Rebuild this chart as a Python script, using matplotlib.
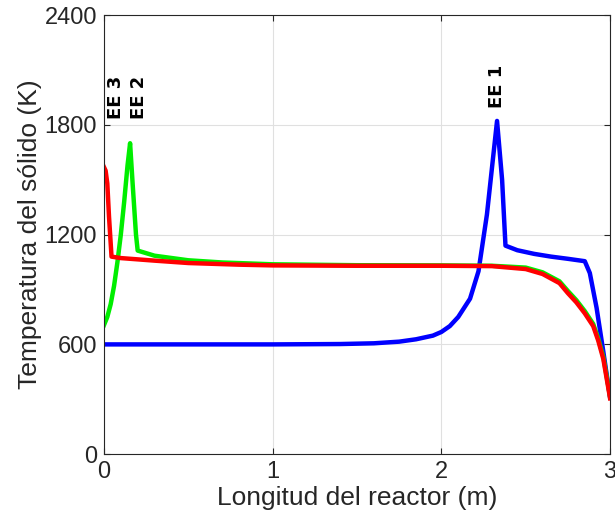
import matplotlib.pyplot as plt

plt.rcParams['font.family'] = ['Liberation Sans', 'DejaVu Sans']

# Perfil EE 1 (azul)
x_ee1 = [0.0, 0.5, 1.0, 1.4, 1.6, 1.75, 1.85, 1.95, 2.0, 2.05, 2.1, 2.17, 2.22, 2.27, 2.33,
         2.36, 2.38, 2.45, 2.55, 2.65, 2.75, 2.85, 2.88, 2.92, 2.96, 3.0]
t_ee1 = [600, 600, 600, 602, 606, 615, 628, 648, 668, 700, 750, 850, 1000, 1310, 1822,
         1500, 1140, 1115, 1095, 1080, 1068, 1055, 990, 800, 560, 310]

# Perfil EE 2 (verde)
x_ee2 = [0.0, 0.02, 0.04, 0.06, 0.08, 0.1, 0.12, 0.14, 0.155, 0.17, 0.19, 0.2, 0.3, 0.5,
         0.7, 1.0, 1.5, 2.0, 2.3, 2.5, 2.6, 2.7, 2.75, 2.8, 2.85, 2.9, 2.93, 2.96, 3.0]
t_ee2 = [705, 750, 820, 920, 1050, 1200, 1380, 1580, 1700, 1480, 1200, 1113, 1085, 1060,
         1048, 1038, 1033, 1032, 1030, 1020, 994, 945, 892, 842, 782, 712, 632, 532, 315]

# Perfil EE 3 (rojo)
x_ee3 = [0.0, 0.01, 0.02, 0.03, 0.045, 0.1, 0.3, 0.5, 0.8, 1.0, 1.5, 2.0, 2.3, 2.5,
         2.6, 2.7, 2.75, 2.8, 2.85, 2.9, 2.93, 2.96, 3.0]
t_ee3 = [1570, 1550, 1480, 1300, 1080, 1072, 1058, 1045, 1036, 1032, 1030, 1030, 1028, 1012,
         985, 935, 880, 830, 770, 700, 620, 520, 305]

fig = plt.figure(figsize=(6.15, 5.25), dpi=100)
ax = fig.add_axes([0.169, 0.135, 0.823, 0.836])

ax.plot(x_ee1, t_ee1, color='#0000ff', lw=3.2)
ax.plot(x_ee2, t_ee2, color='#00ee00', lw=3.2)
ax.plot(x_ee3, t_ee3, color='#ff0000', lw=3.2)

ax.text(2.33, 1890, 'EE 1', rotation=90, ha='center', va='bottom', fontsize=13,
        fontweight='bold', family='DejaVu Sans')
ax.text(0.21, 1830, 'EE 2', rotation=90, ha='center', va='bottom', fontsize=13,
        fontweight='bold', family='DejaVu Sans')
ax.text(0.07, 1830, 'EE 3', rotation=90, ha='center', va='bottom', fontsize=13,
        fontweight='bold', family='DejaVu Sans')

ax.set_xlim(0, 3)
ax.set_ylim(0, 2400)
ax.set_xticks([0, 1, 2, 3])
ax.set_yticks([0, 600, 1200, 1800, 2400])
ax.grid(True, color='#e0e0e0', lw=0.8)
ax.set_axisbelow(True)
ax.tick_params(direction='in', top=True, right=True, labelsize=17, colors='#262626',
               length=4, pad=5)
for s in ax.spines.values():
    s.set_color('#262626')

ax.set_xlabel('Longitud del reactor (m)', fontsize=19, color='#262626', labelpad=2)
ax.set_ylabel('Temperatura del sólido (K)', fontsize=19, color='#262626', labelpad=2)

fig.savefig('out.png')
